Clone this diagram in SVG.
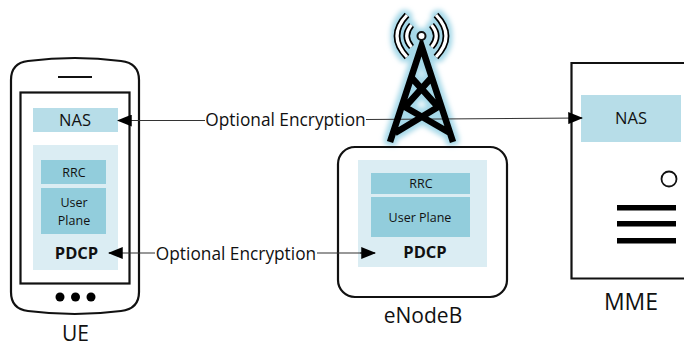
<svg xmlns="http://www.w3.org/2000/svg" width="684" height="347" viewBox="0 0 684 347">
<style>
text{font-family:"Open Sans","Noto Sans",sans-serif;text-anchor:middle;fill:#111}
.big{font-size:21px}.lb{font-size:16.500px}.enc{font-size:17.300px}.sm{font-size:12.500px}.b{font-size:16.500px;font-weight:700}
.o{fill:none;stroke:#111;stroke-width:2.200}
.l1{fill:#b7dde8}.l2{fill:#dbedf3}.l3{fill:#92cddc}
.c{stroke:#333;stroke-width:1.200;fill:none}
.t{fill:none;stroke:#000;stroke-width:6.500;stroke-linejoin:miter}
.ao{fill:none;stroke:#000;stroke-width:6.500}
.ai{fill:none;stroke:#fff;stroke-width:3.200}
</style>
<defs>
<filter id="halo" x="-30%" y="-30%" width="160%" height="160%">
<feMorphology in="SourceAlpha" operator="dilate" radius="3" result="d"/>
<feGaussianBlur in="d" stdDeviation="2.500" result="b"/>
<feFlood flood-color="#a5d8e8"/>
<feComposite in2="b" operator="in"/>
</filter>
<marker id="a" viewBox="0 0 12 12" refX="11" refY="6" markerWidth="15" markerHeight="12" markerUnits="userSpaceOnUse" orient="auto-start-reverse" preserveAspectRatio="none"><path d="M0 0L12 6L0 12z" fill="#000"/></marker>
<g id="tw">
<path class="t" d="M390 142L421.500 46L453 142M411 77L438 107L395 133M432 77L405 107L450 133"/>
<circle cx="421.500" cy="36" r="4" fill="#fff" stroke="#111" stroke-width="2"/>
<path class="ao" d="M407 15Q387 36 407 57M436 15Q456 36 436 57M411.500 25Q402 36 411.500 47M431.500 25Q441 36 431.500 47"/>
<path class="ai" d="M407 15Q387 36 407 57M436 15Q456 36 436 57M411.500 25Q402 36 411.500 47M431.500 25Q441 36 431.500 47"/>
</g>
</defs>
<rect width="684" height="347" fill="#fff"/>
<g id="tower-glow"><use href="#tw" filter="url(#halo)"/></g>
<g id="ue">
<path class="o" d="M28 61Q75 55 121 61Q139 63 139 80V292Q139 309 121 311Q75 317 28 311Q11 309 11 292V80Q11 63 28 61Z"/>
<path d="M58 77H92" stroke="#111" stroke-width="2.200"/>
<rect class="o" x="20.500" y="92.500" width="109" height="191"/>
<rect class="l1" x="33" y="108" width="85" height="24"/>
<rect class="l2" x="33" y="145" width="85" height="125"/>
<rect class="l3" x="41" y="160" width="65" height="24"/>
<rect class="l3" x="41" y="188" width="65" height="46"/>
<text class="lb" x="75" y="126">NAS</text>
<text class="sm" x="74" y="177">RRC</text>
<text class="sm" x="74" y="207">User</text>
<text class="sm" x="74" y="225">Plane</text>
<text class="b" x="76.500" y="259">PDCP</text>
<circle cx="60" cy="297" r="4.500" fill="#000"/><circle cx="75.500" cy="297" r="4.500" fill="#000"/><circle cx="91" cy="297" r="4.500" fill="#000"/>
<text class="big" x="75.500" y="341">UE</text>
</g>
<g id="enodeb">
<rect class="o" x="338" y="147" width="169" height="150" rx="17"/>
<rect class="l2" x="358" y="160" width="129" height="107"/>
<rect class="l3" x="371" y="173" width="99" height="21"/>
<rect class="l3" x="371" y="197" width="99" height="40"/>
<text class="sm" x="421" y="188">RRC</text>
<text class="sm" x="420" y="222">User Plane</text>
<text class="b" x="425" y="258">PDCP</text>
<text class="big" x="423" y="323">eNodeB</text>
</g>
<g id="mme">
<path class="o" d="M684 63H571.500V278.500H684"/>
<rect class="l1" x="581" y="95" width="100" height="47"/>
<text class="lb" x="631" y="124">NAS</text>
<circle cx="669" cy="179" r="7.500" fill="none" stroke="#111" stroke-width="1.800"/>
<rect x="617" y="205" width="59" height="5.500" fill="#000"/>
<rect x="617" y="221" width="59" height="5.500" fill="#000"/>
<rect x="617" y="238" width="59" height="5.500" fill="#000"/>
<text class="big" style="font-size:23px" x="631" y="310">MME</text>
</g>
<g id="connectors">
<path class="c" d="M118 120.500H205M366 119.500L582 118"/>
<path class="c" d="M118 120.500H130" marker-start="url(#a)"/>
<path class="c" d="M570 118.100L582 118" marker-end="url(#a)"/>
<path class="c" d="M109 253H155M317 253H375"/>
<path class="c" d="M109 253H121" marker-start="url(#a)"/>
<path class="c" d="M360 253H375" marker-end="url(#a)"/>
<text class="enc" x="285.500" y="125.500">Optional Encryption</text>
<text class="enc" x="236" y="259.500">Optional Encryption</text>
</g>
<g id="tower"><use href="#tw"/></g>
</svg>
